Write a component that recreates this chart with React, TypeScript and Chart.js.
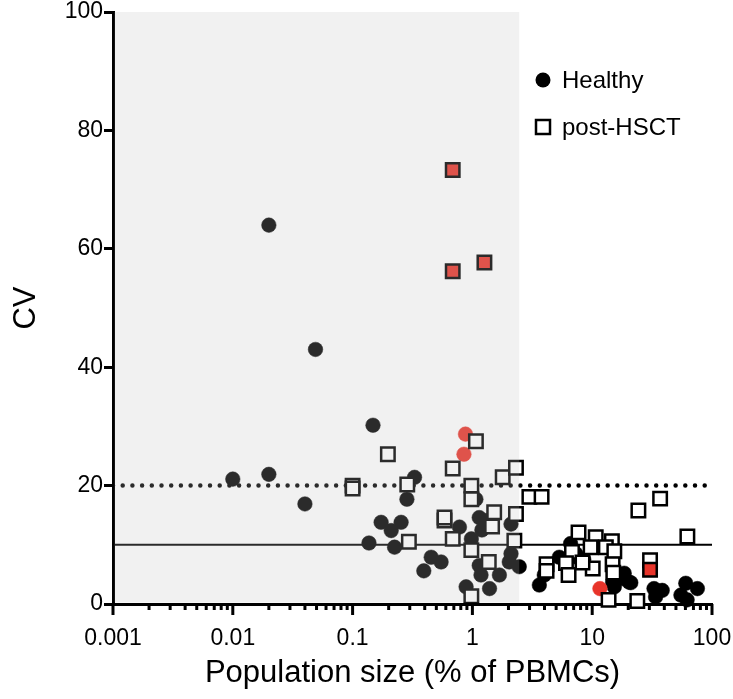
import React, { useEffect, useRef } from 'react';
import { Chart, registerables } from 'chart.js';
Chart.register(...registerables);

// ---- data ----
const seriesNames = ['Healthy', 'post-HSCT'];
const xTickValues = [0.001, 0.01, 0.1, 1, 10, 100];
const xTickLabels = ['0.001', '0.01', '0.1', '1', '10', '100'];
const yTickValues = [0, 20, 40, 60, 80, 100];
const solidLineY = 10;
const dottedLineY = 20;
const shadeEnd = 2.46;

const healthyX = [0.01, 0.02, 0.04, 0.02, 0.049, 0.148, 0.329, 0.284, 0.173, 0.21, 0.254, 0.137, 0.224, 0.453, 0.548, 0.393, 0.78, 0.98, 0.886, 1.14, 1.3, 1.07, 1.2, 2.1, 2.1, 2.03, 1.14, 1.18, 1.68, 1.39, 2.46, 3.62, 3.98, 5.31, 6.6, 7.5, 7.3, 8.5, 14.8, 15.3, 17.9, 20.3, 21.0, 18.5, 32.8, 38.4, 33.8, 60.4, 75.5, 55, 62];
const healthyY = [21.1, 21.9, 16.9, 64.0, 43.0, 30.2, 21.4, 17.7, 13.8, 12.4, 13.8, 10.3, 9.6, 7.9, 7.1, 5.6, 13.0, 11.0, 2.9, 14.6, 14.1, 17.7, 12.5, 13.5, 8.5, 7.1, 6.5, 4.9, 4.9, 2.6, 6.3, 3.2, 4.9, 7.9, 10.2, 7.9, 8.5, 7.5, 3.7, 2.9, 4.3, 3.7, 3.6, 5.2, 2.6, 2.3, 1.2, 3.5, 2.6, 1.5, 0.7];

const healthyRedX = [0.875, 0.85, 11.6];
const healthyRedY = [28.7, 25.3, 2.6];

const hsctX = [1.07, 0.197, 0.685, 1.79, 2.31, 0.1, 0.1, 0.286, 0.98, 0.98, 2.99, 3.78, 2.31, 0.585, 0.585, 0.295, 0.685, 0.98, 0.98, 1.52, 1.46, 2.24, 1.37, 24.3, 36.9, 62.3, 7.69, 10.7, 14.6, 6.78, 9.7, 13.0, 15.3, 6.04, 4.16, 4.16, 6.35, 10.1, 14.8, 15.0, 30.4, 13.7, 23.8, 8.3];
const hsctY = [27.5, 25.3, 22.9, 21.4, 23.0, 20.0, 19.5, 20.2, 20.0, 17.7, 18.1, 18.1, 15.2, 14.1, 14.6, 10.5, 11.0, 9.1, 1.3, 15.5, 13.1, 10.7, 7.1, 15.8, 17.8, 11.4, 12.1, 11.3, 10.6, 8.8, 9.6, 9.6, 8.9, 6.9, 6.7, 5.6, 4.9, 6.0, 6.7, 5.3, 7.4, 0.7, 0.5, 7.0];

const hsctRedX = [0.685, 0.685, 1.26, 30.4];
const hsctRedY = [73.3, 56.2, 57.7, 5.8];

const RED = '#e8342a';
const FONT = "'Liberation Sans', Arial, Helvetica, sans-serif";

const pts = (xs: number[], ys: number[]) => xs.map((x, i) => ({ x, y: ys[i] }));

const shadePlugin = {
  id: 'shadeOverlay',
  afterDatasetsDraw(chart: any) {
    const { ctx, chartArea, scales } = chart;
    const x0 = chartArea.left + 1.5;
    const x1 = scales.x.getPixelForValue(shadeEnd);
    ctx.save();
    ctx.fillStyle = 'rgba(192,192,192,0.224)';
    ctx.fillRect(x0, chartArea.top, x1 - x0, chartArea.bottom - 1.5 - chartArea.top);
    ctx.restore();
  },
};

const minorTicksPlugin = {
  id: 'xMinorTicks',
  afterDraw(chart: any) {
    const { ctx, chartArea, scales } = chart;
    const xs = scales.x;
    const base = chartArea.bottom;
    ctx.save();
    ctx.strokeStyle = '#000';
    ctx.lineWidth = 3;
    for (let d = -3; d <= 2; d++) {
      for (let k = 1; k <= 9; k++) {
        const v = k * Math.pow(10, d);
        if (v > 100.0001) continue;
        const px = xs.getPixelForValue(v);
        const len = k === 1 ? 11 : 6;
        ctx.beginPath();
        ctx.moveTo(px, base);
        ctx.lineTo(px, base + len);
        ctx.stroke();
      }
    }
    ctx.restore();
  },
};

const legendPlugin = {
  id: 'customLegend',
  afterDraw(chart: any) {
    const { ctx } = chart;
    ctx.save();
    ctx.fillStyle = '#000';
    ctx.beginPath();
    ctx.arc(543, 80, 7.5, 0, Math.PI * 2);
    ctx.fill();
    ctx.fillStyle = '#fff';
    ctx.strokeStyle = '#000';
    ctx.lineWidth = 2.5;
    ctx.fillRect(536, 120, 14, 14);
    ctx.strokeRect(536, 120, 14, 14);
    ctx.fillStyle = '#000';
    ctx.font = `24px ${FONT}`;
    ctx.textBaseline = 'middle';
    ctx.textAlign = 'left';
    ctx.fillText(seriesNames[0], 562, 81);
    ctx.fillText(seriesNames[1], 562, 128);
    ctx.restore();
  },
};

export default function App() {
  const ref = useRef<HTMLCanvasElement | null>(null);
  useEffect(() => {
    if (!ref.current) return;
    const circle = { pointStyle: 'circle', pointRadius: 7.3, borderWidth: 0.5, clip: false as any, showLine: false };
    const square = { pointStyle: 'rect', pointRadius: 9.5, borderWidth: 2.5, clip: false as any, showLine: false };
    const chart = new Chart(ref.current, {
      type: 'scatter',
      data: {
        datasets: [
          {
            type: 'line', label: 'solid', data: [{ x: 0.001, y: solidLineY }, { x: 100, y: solidLineY }],
            borderColor: '#000', borderWidth: 2, pointRadius: 0, order: 10,
          } as any,
          {
            type: 'line', label: 'dotted', data: [{ x: 0.001, y: dottedLineY }, { x: 100, y: dottedLineY }],
            borderColor: '#000', borderWidth: 4.5, borderDash: [0, 9.7], borderCapStyle: 'round', pointRadius: 0, order: 9,
          } as any,
          { label: seriesNames[0], data: pts(healthyX, healthyY), backgroundColor: '#000', borderColor: '#000', order: 5, ...circle } as any,
          { label: seriesNames[0] + ' red', data: pts(healthyRedX, healthyRedY), backgroundColor: RED, borderColor: RED, order: 4, ...circle } as any,
          { label: seriesNames[1], data: pts(hsctX, hsctY), backgroundColor: '#fff', borderColor: '#000', order: 3, ...square } as any,
          { label: seriesNames[1] + ' red', data: pts(hsctRedX, hsctRedY), backgroundColor: RED, borderColor: '#000', order: 2, ...square } as any,
        ],
      },
      options: {
        animation: false,
        responsive: false,
        events: [],
        layout: { padding: { top: 8, right: 21, left: 0, bottom: 0 } },
        plugins: { legend: { display: false }, tooltip: { enabled: false } },
        scales: {
          x: {
            type: 'logarithmic',
            min: 0.001,
            max: 100,
            afterBuildTicks: (s: any) => { s.ticks = xTickValues.map((v) => ({ value: v })); },
            afterFit: (s: any) => { s.height = 95; s.paddingRight = 0; s.paddingLeft = 0; },
            grid: { display: true, drawOnChartArea: false, drawTicks: false },
            border: { display: true, color: '#000', width: 3 },
            ticks: {
              autoSkip: false,
              maxRotation: 0,
              padding: 21,
              color: '#000',
              font: { family: FONT, size: 23 },
              callback: (v: any) => {
                const i = xTickValues.findIndex((t) => Math.abs(t - Number(v)) / t < 1e-6);
                return i >= 0 ? xTickLabels[i] : '';
              },
            },
            title: {
              display: true,
              text: 'Population size (% of PBMCs)',
              color: '#000',
              font: { family: FONT, size: 31 },
              padding: { top: 0, bottom: 7 },
            },
          },
          y: {
            type: 'linear',
            min: 0,
            max: 100,
            afterBuildTicks: (s: any) => { s.ticks = yTickValues.map((v) => ({ value: v })); },
            afterFit: (s: any) => { s.width = 113; s.paddingTop = 0; s.paddingBottom = 0; },
            grid: { display: true, drawOnChartArea: false, drawTicks: true, tickLength: 9, tickWidth: 3, tickColor: '#000' },
            border: { display: true, color: '#000', width: 3 },
            ticks: {
              padding: 1,
              color: '#000',
              font: { family: FONT, size: 23 },
            },
            title: {
              display: true,
              text: 'CV',
              color: '#000',
              font: { family: FONT, size: 31 },
              padding: { top: 8, bottom: 0 },
            },
          },
        },
      },
      plugins: [shadePlugin, minorTicksPlugin, legendPlugin],
    });
    return () => chart.destroy();
  }, []);
  return (
    <div style={{ position: 'fixed', left: 0, top: 0, width: 733, height: 699, background: '#fff' }}>
      <canvas ref={ref} width={733} height={699} style={{ width: 733, height: 699, display: 'block' }} />
    </div>
  );
}
